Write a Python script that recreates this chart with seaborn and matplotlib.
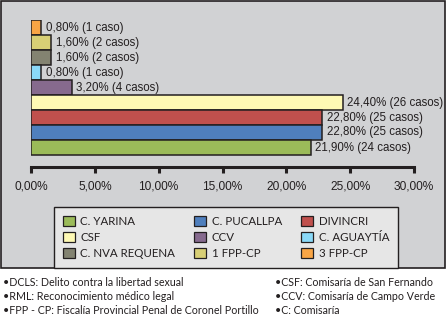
import matplotlib
matplotlib.use("Agg")
import matplotlib.pyplot as plt
import seaborn as sns
import pandas as pd
from matplotlib.patches import Rectangle, Patch

# ---- data ----
categories = ["C. YARINA", "C. PUCALLPA", "DIVINCRI", "CSF", "CCV",
              "C. AGUAYTÍA", "C. NVA REQUENA", "1 FPP-CP", "3 FPP-CP"]
percent = [21.9, 22.8, 22.8, 24.4, 3.2, 0.8, 1.6, 1.6, 0.8]
cases = [24, 25, 25, 26, 4, 1, 2, 2, 1]
colors = ["#9bbb59", "#4f7fbd", "#c0504d", "#fef9b4", "#866a8e",
          "#8ad9f8", "#838371", "#d8cf75", "#f9a545"]
xticks = [0, 5, 10, 15, 20, 25, 30]
footnotes_left = ["•DCLS: Delito contra la libertad sexual",
                  "•RML: Reconocimiento médico legal",
                  "•FPP - CP: Fiscalía Provincial Penal de Coronel Portillo"]
footnotes_right = ["•CSF: Comisaría de San Fernando",
                   "•CCV: Comisaría de Campo Verde",
                   "•C: Comisaría"]

sns.set_theme(style="white")
plt.rcParams['font.family'] = ['Liberation Sans', 'DejaVu Sans']
dark = "#231f20"

W, H = 446, 322
fig = plt.figure(figsize=(W / 100, H / 100), dpi=100, facecolor="white")

# gray panel
fig.patches.append(Rectangle((0.5 / W, 1 - 268 / H), (W - 1.5) / W, (268 - 0.5) / H,
                             transform=fig.transFigure, facecolor="#d1d2d4",
                             edgecolor=dark, linewidth=1.2, zorder=-10))

ax = fig.add_axes([31 / W, 1 - 167 / H, (414 - 31) / W, (167 - 20) / H])
ax.set_facecolor("none")
ax.set_zorder(1)

df = pd.DataFrame({"cat": categories, "pct": percent})
order = categories[::-1]
pal = dict(zip(categories, colors))
sns.barplot(data=df, x="pct", y="cat", hue="cat", order=order, hue_order=order,
            palette=pal, orient="h", width=1.0, edgecolor=dark, linewidth=1.1,
            legend=False, ax=ax, saturation=1)

lab_map = {c: f"{p:.2f}".replace(".", ",") + f"% ({n} caso{'s' if n != 1 else ''})"
           for c, p, n in zip(categories, percent, cases)}
for cont, cat in zip(ax.containers, order):
    ax.bar_label(cont, labels=[lab_map[cat]], padding=3.3, fontsize=8.3, color=dark)

ax.set_xlim(0, 30)
ax.set_ylim(8.5 + 0.8, -0.5)
ax.set_xticks(xticks)
ax.set_xticklabels([f"{t:.2f}".replace(".", ",") + "%" for t in xticks],
                   fontsize=8.6, color=dark)
ax.set_yticks([])
ax.set_xlabel("")
ax.set_ylabel("")
for s in ["top", "right", "left"]:
    ax.spines[s].set_visible(False)
ax.spines["bottom"].set_color(dark)
ax.spines["bottom"].set_linewidth(2.2)
ax.tick_params(axis="x", direction="out", length=4.5, width=2.2, color=dark, pad=5.5,
               bottom=True)

# legend (row-wise order across 3 columns)
handles = {c: Patch(facecolor=col, edgecolor=dark, linewidth=0.9)
           for c, col in zip(categories, colors)}
ncol = 3
col_order = [categories[i] for c in range(ncol) for i in range(c, len(categories), ncol)]
leg = fig.legend([handles[c] for c in col_order], col_order, ncol=ncol,
                 loc="upper left",
                 bbox_to_anchor=(54 / W, 1 - 207 / H, (398 - 54) / W, 0),
                 mode="expand", fancybox=False, framealpha=1,
                 facecolor="#e6e6e6", edgecolor=dark,
                 handlelength=1.0, handleheight=1.0, handletextpad=0.5,
                 labelspacing=0.42, borderpad=0.78, borderaxespad=0,
                 prop={"family": ["Lato", "DejaVu Sans"], "size": 8.3})
leg.get_frame().set_linewidth(1.0)
for t in leg.get_texts():
    t.set_color(dark)

# footnotes
ys = [282, 297, 311]
for y, t in zip(ys, footnotes_left):
    fig.text(3 / W, 1 - y / H, t, fontsize=7.7, color=dark, va="center",
             family=["Lato", "DejaVu Sans"])
for y, t in zip(ys, footnotes_right):
    fig.text(275 / W, 1 - y / H, t, fontsize=7.7, color=dark, va="center",
             family=["Lato", "DejaVu Sans"])

fig.savefig("out.png", dpi=100, facecolor="white")
